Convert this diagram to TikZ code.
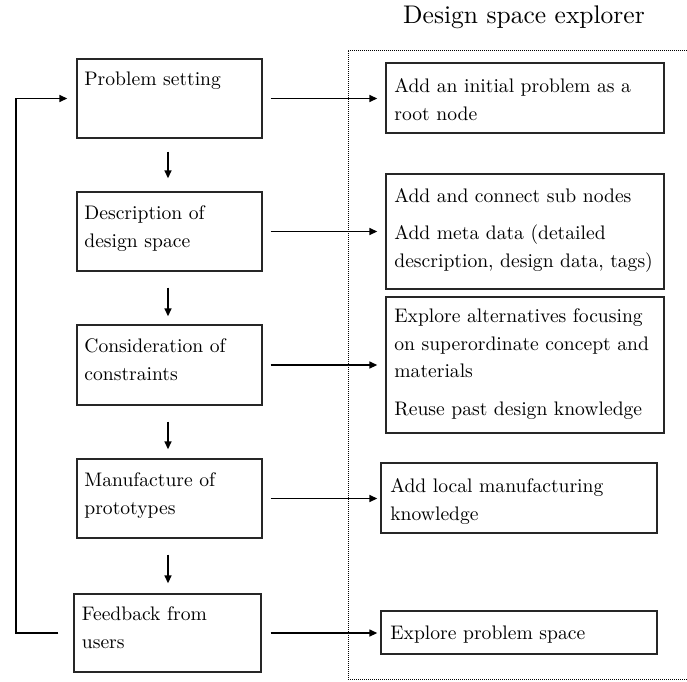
\documentclass[tikz,border=0pt]{standalone}
\usetikzlibrary{arrows.meta}
\begin{document}
\begin{tikzpicture}[x=1pt,y=-1pt,
  box/.style={draw=black!85, line width=1.4pt, rectangle, inner sep=0pt},
  % multi-line labels are placed by the baseline of their last line
  txt/.style={anchor=base west, inner sep=0pt, align=left, scale=1.96,
    font=\fontsize{10}{14}\selectfont},
  arr/.style={line width=1.5pt, -{Triangle[length=8pt,width=7pt]}}]
\useasboundingbox (0,0) rectangle (687,681);

% title and explorer frame
\node[anchor=base, inner sep=0pt, scale=2.55] (title) at (524,23.5) {Design space explorer};
\draw[line width=1pt, densely dotted] (687,50) -- (348,50) -- (348,679) -- (687,679);

% process steps
\node[box, minimum width=185pt, minimum height=79pt] (ps) at (169.5,98.5) {};
\node[box, minimum width=185pt, minimum height=79pt] (ds) at (169.5,231.5) {};
\node[box, minimum width=185pt, minimum height=80pt] (cc) at (169.5,365) {};
\node[box, minimum width=185pt, minimum height=79pt] (mp) at (169.5,498.5) {};
\node[box, minimum width=187pt, minimum height=78pt] (fb) at (167.5,633) {};

\node[txt] (tps) at (84,85) {Problem setting};
\node[txt] (tds) at (84,247) {Description of\\design space};
\node[txt] (tcc) at (84,380) {Consideration of\\constraints};
\node[txt] (tmp) at (84,514) {Manufacture of\\prototypes};
\node[txt] (tfb) at (81.5,648) {Feedback from\\users};

% explorer functions
\node[box, minimum width=278pt, minimum height=70pt] (r1) at (525,98) {};
\node[box, minimum width=278pt, minimum height=115pt] (r2) at (525,231.5) {};
\node[box, minimum width=278pt, minimum height=136pt] (r3) at (525,365) {};
\node[box, minimum width=276pt, minimum height=70pt] (r4) at (519,498) {};
\node[box, minimum width=276pt, minimum height=43pt] (r5) at (519,632.5) {};

\node[txt] (tr1) at (394,120) {Add an initial problem as a\\root node};
\node[txt] (tr2) at (394,267) {Add and connect sub nodes\\[5pt]Add meta data (detailed\\description, design data, tags)};
\node[txt] (tr3) at (394,415) {Explore alternatives focusing\\on superordinate concept and\\materials\\[5pt]Reuse past design knowledge};
\node[txt] (tr4) at (390,520) {Add local manufacturing\\knowledge};
\node[txt] (tr5) at (390,639) {Explore problem space};

% flow between steps
\draw[arr, shorten <=13pt, shorten >=13pt] (ps.south -| 168,0) -- (ds.north -| 168,0);
\draw[arr, shorten <=16pt, shorten >=8pt] (ds.south -| 168,0) -- (cc.north -| 168,0);
\draw[arr, shorten <=16pt, shorten >=9pt] (cc.south -| 168,0) -- (mp.north -| 168,0);
\draw[arr, shorten <=16pt, shorten >=10pt] (mp.south -| 168,0) -- (fb.north -| 168,0);

% steps to explorer functions
\draw[arr, shorten <=8pt, shorten >=8pt] (ps.east) -- (ps.east -| r1.west);
\draw[arr, shorten <=8pt, shorten >=8pt] (ds.east) -- (ds.east -| r2.west);
\draw[arr, shorten <=8pt, shorten >=8pt] (cc.east) -- (cc.east -| r3.west);
\draw[arr, shorten <=8pt, shorten >=3pt] (mp.east) -- (mp.east -| r4.west);
\draw[arr, shorten <=9pt, shorten >=3pt] (fb.east) -- (fb.east -| r5.west);

% feedback loop
\coordinate (loop) at (16,633);
\draw[arr, shorten <=15pt, shorten >=9pt] (fb.west) -- (loop) |- (ps.west);
\end{tikzpicture}
\end{document}
